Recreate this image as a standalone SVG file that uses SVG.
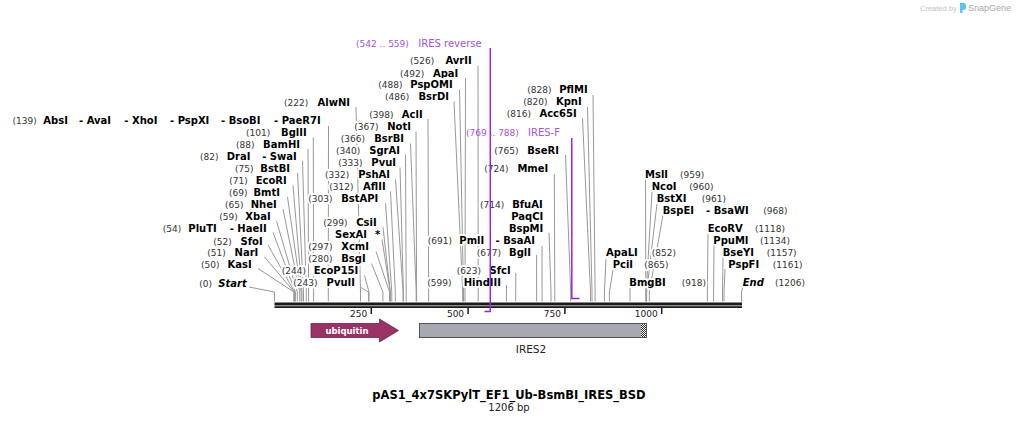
<svg xmlns="http://www.w3.org/2000/svg" width="1017" height="423" viewBox="0 0 1017 423">
<style>
text{font-family:"DejaVu Sans",Verdana,sans-serif}
.b{font-size:10px;font-weight:bold;fill:#000}
.r{text-anchor:end}
.i{font-style:italic}
.n{font-size:9px;font-weight:normal;font-style:normal;fill:#333}
.lbl text{paint-order:stroke;stroke:#fff;stroke-width:4px;stroke-linejoin:round}
.cn polyline{fill:none;stroke:#999;stroke-width:1}
.pl{fill:none;stroke:#9a22ee;stroke-width:1.5}
.pt{fill:#a352e8}
.tk{font-size:9px;fill:#222;text-anchor:end}
</style>
<defs>
<pattern id="hatch" width="2" height="2" patternUnits="userSpaceOnUse">
<rect width="2" height="2" fill="#fff"/><rect width="1" height="1" fill="#333"/><rect x="1" y="1" width="1" height="1" fill="#333"/>
</pattern>
</defs>
<rect width="1017" height="423" fill="#fff"/>

<g id="watermark">
<text x="920" y="11" style="font-family:'Liberation Sans',Arial,sans-serif;font-size:7.5px;fill:#c4c4c4">Created by</text>
<path d="M960,3 h3.5 a2.5,2.5 0 0 1 2.5,2.5 v2 a2.5,2.5 0 0 1 -2.5,2.5 h-1 v3 h-2.5 z" fill="#5bc4ef"/>
<text x="968" y="11" style="font-family:'Liberation Sans',Arial,sans-serif;font-size:9px;fill:#a8a8a8">SnapGene</text>
</g>

<g id="connectors" class="cn">
<polyline points="249,287 274.5,292 274.5,301.5"/>
<polyline points="258,268.5 293.9,292 293.9,301.5"/>
<polyline points="264.5,257 294.2,292 294.2,301.5"/>
<polyline points="268,245 294.6,292 294.6,301.5"/>
<polyline points="273,232.5 295.4,292 295.4,301.5"/>
<polyline points="276.5,221 297.3,292 297.3,301.5"/>
<polyline points="283,209 299.7,292 299.7,301.5"/>
<polyline points="287.5,197 301.2,292 301.2,301.5"/>
<polyline points="293,185.5 302,292 302,301.5"/>
<polyline points="297.5,173 303.5,292 303.5,301.5"/>
<polyline points="302.5,161 306.3,292 306.3,301.5"/>
<polyline points="308,149 308.6,292 308.6,301.5"/>
<polyline points="313.3,137.5 313.6,292 313.6,301.5"/>
<polyline points="328.5,126 328.3,292 328.3,301.5"/>
<polyline points="356,107 360.5,292 360.5,301.5"/>
<polyline points="361,287.5 368.6,292 368.6,301.5"/>
<polyline points="364.5,275.5 369,292 369,301.5"/>
<polyline points="371.5,263.5 382.9,292 382.9,301.5"/>
<polyline points="376,251.5 389.5,292 389.5,301.5"/>
<polyline points="382,239.5 390.3,292 390.3,301.5"/>
<polyline points="383,227.5 390.3,292 390.3,301.5"/>
<polyline points="385.5,203.5 391.8,292 391.8,301.5"/>
<polyline points="390.5,191.5 395.3,292 395.3,301.5"/>
<polyline points="395.5,179.5 403.1,292 403.1,301.5"/>
<polyline points="400,167.5 403.4,292 403.4,301.5"/>
<polyline points="405.5,154.5 406.2,292 406.2,301.5"/>
<polyline points="410.5,143.5 416.2,292 416.2,301.5"/>
<polyline points="416,131.5 416.6,292 416.6,301.5"/>
<polyline points="428,119 428.6,292 428.6,301.5"/>
<polyline points="454,101.5 462.7,292 462.7,301.5"/>
<polyline points="459.5,89.5 463.5,292 463.5,301.5"/>
<polyline points="465.5,78 465,292 465,301.5"/>
<polyline points="478,65.5 478.2,292 478.2,301.5"/>
<polyline points="506.5,285 506.4,292 506.4,301.5"/>
<polyline points="515.8,273 515.7,292 515.7,301.5"/>
<polyline points="536.6,255 536.6,292 536.6,301.5"/>
<polyline points="542,246 542.1,292 542.1,301.5"/>
<polyline points="549,233 551,292 551,301.5"/>
<polyline points="554.3,174 554.8,292 554.8,301.5"/>
<polyline points="565.5,155 570.7,292 570.7,301.5"/>
<polyline points="582.5,118.5 590.5,292 590.5,301.5"/>
<polyline points="587.5,107 592,292 592,301.5"/>
<polyline points="593,95 595.1,292 595.1,301.5"/>
<polyline points="606,259 604.4,292 604.4,301.5"/>
<polyline points="613,270 609.4,292 609.4,301.5"/>
<polyline points="630,288 630,292 630,301.5"/>
<polyline points="645.5,180 645.8,292 645.8,301.5"/>
<polyline points="652,192 646.2,292 646.2,301.5"/>
<polyline points="657,203.5 646.6,292 646.6,301.5"/>
<polyline points="663,215 649.3,292 649.3,301.5"/>
<polyline points="708,233.5 707.4,292 707.4,301.5"/>
<polyline points="714,245 713.6,292 713.6,301.5"/>
<polyline points="723,257 722.5,292 722.5,301.5"/>
<polyline points="725,269 724,292 724,301.5"/>
<polyline points="742.5,288 741.5,292 741.5,301.5"/>
</g>

<g id="backbone">
<rect x="274.5" y="302.5" width="467.5" height="3" fill="#1a1a1a"/>
<rect x="274.5" y="306.2" width="467.5" height="1.8" fill="#1a1a1a"/>
<g stroke="#1a1a1a" stroke-width="1.5">
<line x1="371.3" y1="308" x2="371.3" y2="314"/>
<line x1="468.1" y1="308" x2="468.1" y2="314"/>
<line x1="564.9" y1="308" x2="564.9" y2="314"/>
<line x1="661.7" y1="308" x2="661.7" y2="314"/>
</g>
<text class="tk" x="367.3" y="317">250</text>
<text class="tk" x="464.1" y="317">500</text>
<text class="tk" x="560.9" y="317">750</text>
<text class="tk" x="657.7" y="317">1000</text>
</g>

<g id="ubiquitin">
<path d="M311,323.5 H379.5 V319 L398.5,330.5 L379.5,342 V337.5 H311 Z" fill="#993366" stroke="#6e2249" stroke-width="0.8"/>
<text x="347" y="333.5" text-anchor="middle" style="font-size:8.5px;font-weight:bold;fill:#fff">ubiquitin</text>
</g>

<g id="IRES2">
<rect x="419.5" y="323.5" width="227" height="14" fill="#a5aab2" stroke="#555" stroke-width="1"/>
<rect x="641" y="324" width="5" height="13" fill="url(#hatch)"/>
<text x="531" y="353" text-anchor="middle" style="font-size:10.5px;fill:#222">IRES2</text>
</g>

<g id="AlwNI" class="lbl"><text class="n" x="284" y="105.5">(222)</text><text class="b r" x="350" y="105.5">AlwNI</text></g>
<g id="AbsI" class="lbl"><text class="n" x="12.5" y="124">(139)</text><text class="b" y="124"><tspan x="43.3">AbsI</tspan><tspan x="79">- AvaI</tspan><tspan x="124.3">- XhoI</tspan><tspan x="170">- PspXI</tspan><tspan x="221">- BsoBI</tspan></text><text class="b r" x="320.7" y="124">- PaeR7I</text></g>
<g id="BglII" class="lbl"><text class="n" x="246" y="136">(101)</text><text class="b r" x="306.7" y="136">BglII</text></g>
<g id="BamHI" class="lbl"><text class="n" x="236" y="147.5">(88)</text><text class="b r" x="300" y="147.5">BamHI</text></g>
<g id="DraI" class="lbl"><text class="n" x="200" y="159.5">(82)</text><text class="b" x="226.7" y="159.5">DraI</text><text class="b r" x="296.7" y="159.5">- SwaI</text></g>
<g id="BstBI" class="lbl"><text class="n" x="235" y="172">(75)</text><text class="b r" x="290" y="172">BstBI</text></g>
<g id="EcoRI" class="lbl"><text class="n" x="229.3" y="184">(71)</text><text class="b r" x="286.7" y="184">EcoRI</text></g>
<g id="BmtI" class="lbl"><text class="n" x="229" y="195.5">(69)</text><text class="b r" x="280" y="195.5">BmtI</text></g>
<g id="NheI" class="lbl"><text class="n" x="225" y="208">(65)</text><text class="b r" x="276.7" y="208">NheI</text></g>
<g id="XbaI" class="lbl"><text class="n" x="219.3" y="220">(59)</text><text class="b r" x="270.7" y="220">XbaI</text></g>
<g id="PluTI" class="lbl"><text class="n" x="162.7" y="231.5">(54)</text><text class="b" x="188.3" y="231.5">PluTI</text><text class="b r" x="266.7" y="231.5">- HaeII</text></g>
<g id="SfoI" class="lbl"><text class="n" x="213.3" y="244.5">(52)</text><text class="b r" x="262.7" y="244.5">SfoI</text></g>
<g id="NarI" class="lbl"><text class="n" x="207.3" y="256">(51)</text><text class="b r" x="258.3" y="256">NarI</text></g>
<g id="KasI" class="lbl"><text class="n" x="201" y="268">(50)</text><text class="b r" x="251.7" y="268">KasI</text></g>
<g id="Start" class="lbl"><text class="n" x="199.3" y="286.5">(0)</text><text class="b r i" x="246.7" y="286.5">Start</text></g>

<g id="AvrII" class="lbl"><text class="n" x="410" y="64">(526)</text><text class="b r" x="471.7" y="64">AvrII</text></g>
<g id="ApaI" class="lbl"><text class="n" x="400" y="76.5">(492)</text><text class="b r" x="458.3" y="76.5">ApaI</text></g>
<g id="PspOMI" class="lbl"><text class="n" x="378.3" y="88">(488)</text><text class="b r" x="452.7" y="88">PspOMI</text></g>
<g id="BsrDI" class="lbl"><text class="n" x="385" y="100">(486)</text><text class="b r" x="449" y="100">BsrDI</text></g>
<g id="AclI" class="lbl"><text class="n" x="369.3" y="117.5">(398)</text><text class="b r" x="422.7" y="117.5">AclI</text></g>
<g id="NotI" class="lbl"><text class="n" x="354.3" y="130">(367)</text><text class="b r" x="411" y="130">NotI</text></g>
<g id="BsrBI" class="lbl"><text class="n" x="340.7" y="142">(366)</text><text class="b r" x="404" y="142">BsrBI</text></g>
<g id="SgrAI" class="lbl"><text class="n" x="336" y="153.5">(340)</text><text class="b r" x="400" y="153.5">SgrAI</text></g>
<g id="PvuI" class="lbl"><text class="n" x="338.3" y="166">(333)</text><text class="b r" x="396" y="166">PvuI</text></g>
<g id="PshAI" class="lbl"><text class="n" x="325" y="178">(332)</text><text class="b r" x="390" y="178">PshAI</text></g>
<g id="AflII" class="lbl"><text class="n" x="329.3" y="190">(312)</text><text class="b r" x="385.7" y="190">AflII</text></g>
<g id="BstAPI" class="lbl"><text class="n" x="308.3" y="202">(303)</text><text class="b r" x="378.3" y="202">BstAPI</text></g>
<g id="CsiI" class="lbl"><text class="n" x="323.3" y="226">(299)</text><text class="b r" x="376.7" y="226">CsiI</text></g>
<g id="SexAI" class="lbl"><text class="b" x="335" y="238">SexAI</text><text class="b" x="375" y="238">*</text></g>
<g id="XcmI" class="lbl"><text class="n" x="308.3" y="250">(297)</text><text class="b r" x="369" y="250">XcmI</text></g>
<g id="BsgI" class="lbl"><text class="n" x="308.3" y="262">(280)</text><text class="b r" x="365.7" y="262">BsgI</text></g>
<g id="EcoP15I" class="lbl"><text class="n" x="281.7" y="274">(244)</text><text class="b r" x="358.3" y="274">EcoP15I</text></g>
<g id="PvuII" class="lbl"><text class="n" x="293.3" y="286">(243)</text><text class="b r" x="355" y="286">PvuII</text></g>

<g id="HindIII" class="lbl"><text class="n" x="427.3" y="285.5">(599)</text><text class="b r" x="501" y="285.5">HindIII</text></g>
<g id="SfcI" class="lbl"><text class="n" x="456.7" y="273.5">(623)</text><text class="b r" x="510.7" y="273.5">SfcI</text></g>
<g id="BglI" class="lbl"><text class="n" x="476.7" y="255.5">(677)</text><text class="b r" x="531" y="255.5">BglI</text></g>
<g id="PmlI" class="lbl"><text class="n" x="427.7" y="243.5">(691)</text><text class="b" x="459.3" y="243.5">PmlI</text><text class="b r" x="535" y="243.5">- BsaAI</text></g>
<g id="BfuAI" class="lbl"><text class="n" x="480" y="207.5">(714)</text><text class="b r" x="542.7" y="207.5">BfuAI</text><text class="b r" x="543.3" y="219.5">PaqCI</text><text class="b r" x="543.3" y="231.5">BspMI</text></g>
<g id="MmeI" class="lbl"><text class="n" x="484.3" y="171.5">(724)</text><text class="b r" x="548.3" y="171.5">MmeI</text></g>
<g id="BseRI" class="lbl"><text class="n" x="494.3" y="153.5">(765)</text><text class="b r" x="559" y="153.5">BseRI</text></g>
<g id="Acc65I" class="lbl"><text class="n" x="506.7" y="117">(816)</text><text class="b r" x="576.7" y="117">Acc65I</text></g>
<g id="KpnI" class="lbl"><text class="n" x="523.3" y="105">(820)</text><text class="b r" x="581.7" y="105">KpnI</text></g>
<g id="PflMI" class="lbl"><text class="n" x="527.3" y="93">(828)</text><text class="b r" x="587.7" y="93">PflMI</text></g>

<g id="MslI" class="lbl"><text class="b" x="645" y="177.5">MslI</text><text class="n" x="680" y="177.5">(959)</text></g>
<g id="NcoI" class="lbl"><text class="b" x="651.7" y="189.5">NcoI</text><text class="n" x="689.3" y="189.5">(960)</text></g>
<g id="BstXI" class="lbl"><text class="b" x="656.7" y="201.5">BstXI</text><text class="n" x="701.7" y="201.5">(961)</text></g>
<g id="BspEI" class="lbl"><text class="b" y="213.5"><tspan x="662.7">BspEI</tspan><tspan x="706">- BsaWI</tspan></text><text class="n" x="763.3" y="213.5">(968)</text></g>
<g id="EcoRV" class="lbl"><text class="b" x="707.7" y="231.5">EcoRV</text><text class="n" x="755" y="231.5">(1118)</text></g>
<g id="PpuMI" class="lbl"><text class="b" x="713.3" y="243.5">PpuMI</text><text class="n" x="760" y="243.5">(1134)</text></g>
<g id="BseYI" class="lbl"><text class="b" x="722.7" y="255.5">BseYI</text><text class="n" x="766.7" y="255.5">(1157)</text></g>
<g id="PspFI" class="lbl"><text class="b" x="728.3" y="267.5">PspFI</text><text class="n" x="772.7" y="267.5">(1161)</text></g>
<g id="ApaLI" class="lbl"><text class="b" x="606" y="255.5">ApaLI</text><text class="n" x="651.7" y="255.5">(852)</text></g>
<g id="PciI" class="lbl"><text class="b" x="612.7" y="267.5">PciI</text><text class="n" x="644.3" y="267.5">(865)</text></g>
<g id="BmgBI" class="lbl"><text class="b" x="629.3" y="285.5">BmgBI</text><text class="n" x="681.7" y="285.5">(918)</text></g>
<g id="End" class="lbl"><text class="b i" x="742.7" y="285.5">End</text><text class="n" x="775" y="285.5">(1206)</text></g>

<g id="IRES-reverse">
<text class="pt" x="356" y="46.5" style="font-size:9px">(542 .. 559)</text>
<text class="pt" x="418.3" y="46.5" style="font-size:10px">IRES reverse</text>
<path class="pl" d="M490.3,48 V311.5 H484.5"/>
</g>
<g id="IRES-F">
<text class="pt" x="466" y="136" style="font-size:9px">(769 .. 788)</text>
<text class="pt" x="528" y="136" style="font-size:10px">IRES-F</text>
<path class="pl" d="M571.8,138 V298.5 H579.5"/>
</g>

<g id="title">
<text x="509" y="398.5" text-anchor="middle" style="font-size:11.5px;font-weight:bold;fill:#000">pAS1_4x7SKPylT_EF1_Ub-BsmBI_IRES_BSD</text>
<text x="509" y="411" text-anchor="middle" style="font-size:10px;fill:#222">1206 bp</text>
</g>
</svg>
